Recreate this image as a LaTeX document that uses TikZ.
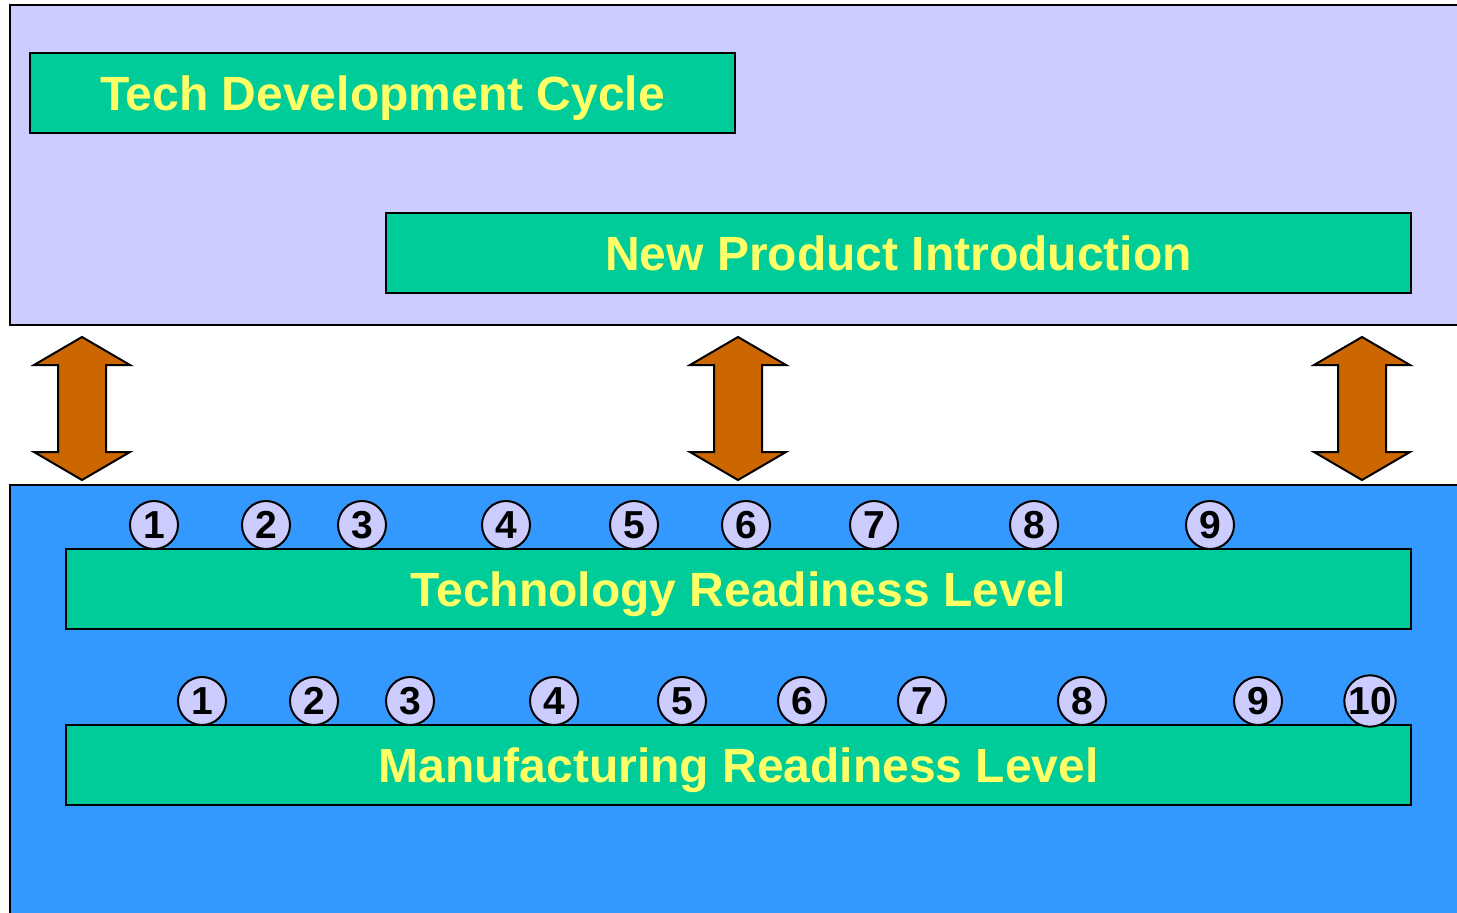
\documentclass[tikz,border=0pt]{standalone}
\usepackage{fontspec}
\setmainfont{Liberation Sans}
\definecolor{lav}{HTML}{CCCCFF}
\definecolor{sky}{HTML}{3399FF}
\definecolor{teal}{HTML}{00CC99}
\definecolor{ylw}{HTML}{FFFF66}
\definecolor{orng}{HTML}{CC6600}
\begin{document}
\begin{tikzpicture}[x=1pt,y=-1pt,
  panel/.style={draw=black,line width=2pt},
  bar/.style={draw=black,line width=2pt,fill=teal,text=ylw,inner sep=0pt,text depth=0pt,
    font=\fontsize{48}{50}\selectfont\bfseries},
  num/.style={circle,draw=black,line width=2pt,fill=lav,minimum size=48pt,inner sep=0pt,
    font=\fontsize{39}{40}\selectfont\bfseries},
  dbl/.style={draw=black,line width=2pt,fill=orng,line join=miter}]
\useasboundingbox (0,0) rectangle (1457,913);
% panels
\path[panel,fill=lav] (10,5) rectangle (1470,325);
\path[panel,fill=sky] (10,485) rectangle (1470,930);
% bars
\node[bar,minimum width=705pt,minimum height=80pt] (tdc) at (382.5,93) {Tech Development Cycle};
\node[bar,minimum width=1025pt,minimum height=80pt] (npi) at (898.5,253) {New Product Introduction};
\node[bar,minimum width=1345pt,minimum height=80pt] (trl) at (738.5,589) {Technology Readiness Level};
\node[bar,minimum width=1345pt,minimum height=80pt] (mrl) at (738.5,765) {Manufacturing Readiness Level};
% TRL numbers
\foreach \x/\n in {154/1,266/2,362/3,506/4,634/5,746/6,874/7,1034/8,1210/9}
  \node[num] (t\n) at (\x,525) {\n};
% MRL numbers
\foreach \x/\n in {202/1,314/2,410/3,554/4,682/5,802/6,922/7,1082/8,1258/9,1370/10}
  \node[num] (m\n) at (\x,701) {\n};
% double arrows
\foreach \c in {82,738,1362}
  \draw[dbl] (\c,337) -- (\c+48,365) -- (\c+24,365) -- (\c+24,452) -- (\c+48,452)
    -- (\c,480) -- (\c-48,452) -- (\c-24,452) -- (\c-24,365) -- (\c-48,365) -- cycle;
\end{tikzpicture}
\end{document}
